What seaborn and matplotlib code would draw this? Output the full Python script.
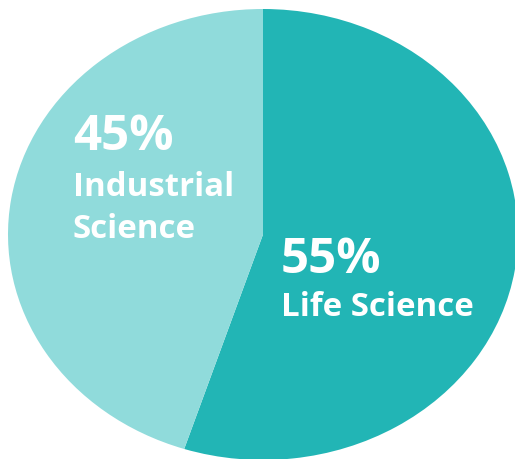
import matplotlib
matplotlib.use("Agg")
import matplotlib.pyplot as plt
import seaborn as sns

labels = ["Life Science", "Industrial Science"]
shares = [55, 45]
colors = ["#22B5B5", "#90DBDB"]
pct_labels = ["55%", "45%"]
name_labels = ["Life Science", "Industrial\nScience"]

sns.set_style("white")
plt.rcParams["font.family"] = ["Open Sans", "DejaVu Sans"]

W, H = 515, 459
fig = plt.figure(figsize=(W / 100, H / 100), dpi=100)
# pie is slightly clipped on the right and bottom in the reference
ax = fig.add_axes([8 / W, -1 / H, 510 / W, 451 / H])
ax.pie(shares, colors=colors, startangle=90, counterclock=False,
       radius=1, wedgeprops=dict(linewidth=0))
ax.set_aspect("auto")
ax.set_xlim(-1, 1)
ax.set_ylim(-1, 1)
ax.axis("off")

def px(x, y):
    return x / W, 1 - y / H

# label positions in pixels (left, baseline)
pos = {"55%": (281, 273), "45%": (73, 150)}
name_pos = {"Life Science": (281, 316), "Industrial\nScience": (73, 238)}

for p, n in zip(pct_labels, name_labels):
    x, y = px(*pos[p])
    fig.text(x, y, p, fontsize=35.5, fontweight="bold", color="white",
             ha="left", va="baseline")
    x, y = px(*name_pos[n])
    fig.text(x, y, n, fontsize=23.8, fontweight="bold", color="white",
             ha="left", va="baseline", linespacing=1.36)

fig.savefig("out.png", dpi=100, facecolor="white")
